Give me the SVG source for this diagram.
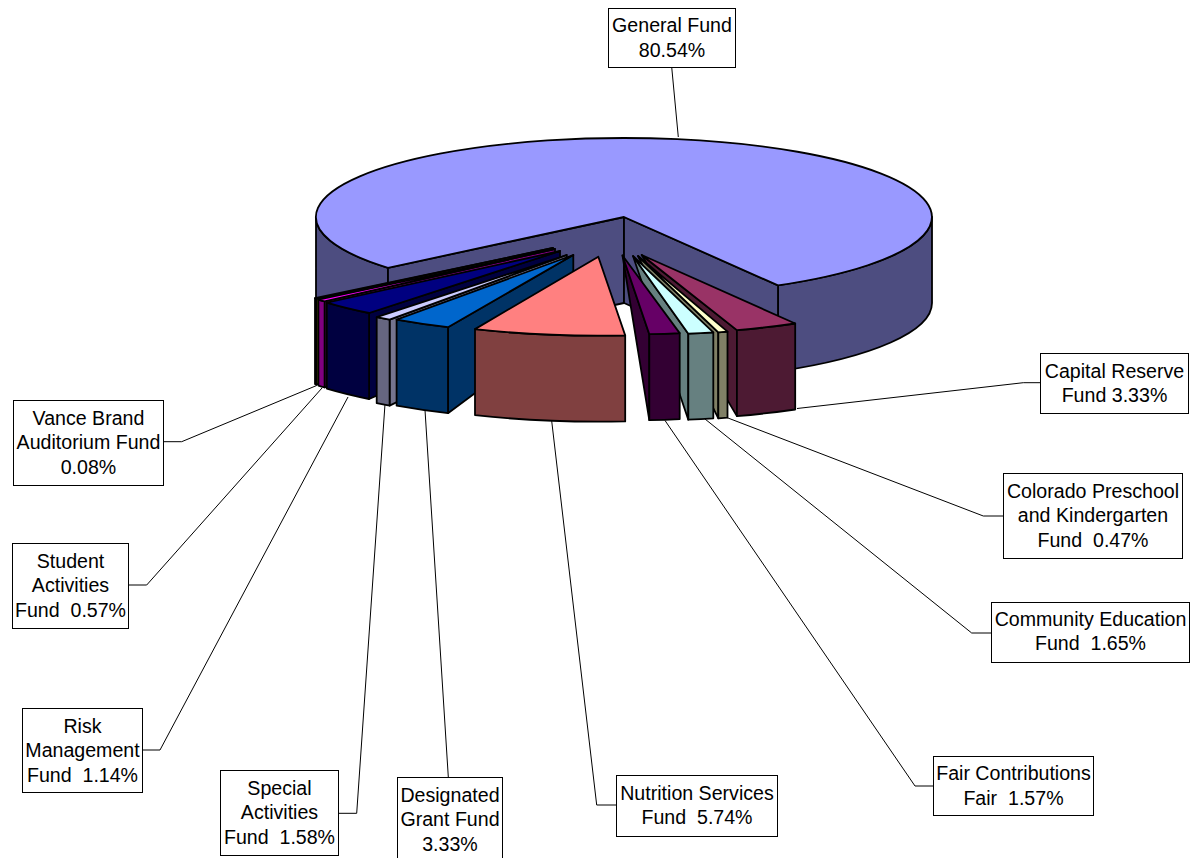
<svg xmlns="http://www.w3.org/2000/svg" width="1191" height="858" viewBox="0 0 1191 858">
<style>
.e{stroke:#000;stroke-width:1.8;stroke-linejoin:round}
.ld{fill:none;stroke:#000;stroke-width:1}
.bx{fill:#fff;stroke:#000;stroke-width:1}
text{font-family:"Liberation Sans",Arial,sans-serif;font-size:19.6px;text-anchor:middle;fill:#000;white-space:pre}
</style>
<rect width="1191" height="858" fill="#fff"/>
<g id="pie">
<g id="general-fund-slice">
<path class="e" fill="#4D4D80" d="M316,217 A308,79 0 0 0 388,267.8 L388,353.8 A308,79 0 0 1 316,303 Z"/>
<path class="e" fill="#4D4D80" d="M778,285.4 A308,79 0 0 0 932,217 L932,303 A308,79 0 0 1 778,371.4 Z"/>
<path class="e" fill="#4D4D80" d="M624,217 L388,267.8 L388,353.8 L624,303 Z"/>
<path class="e" fill="#4D4D80" d="M624,217 L778,285.4 L778,371.4 L624,303 Z"/>
<path class="e" fill="#9999FF" d="M624,217 L388,267.8 A308,79 0 1 1 778,285.4 Z"/>
</g>
<g id="vance-slice">
<path class="e" fill="#808000" d="M553,248 L316.4,298.6 L316.4,384.6 L553,313 Z"/>
<path class="e" fill="#808000" d="M315,298.1 A308,79 0 0 0 316.4,298.6 L316.4,384.6 A308,79 0 0 1 315,384.1 Z"/>
<path class="e" fill="#FFFF00" d="M553,248 L315,298.1 A308,79 0 0 0 316.4,298.6 Z"/>
</g>
<g id="student-slice">
<path class="e" fill="#800080" d="M555,249 L324.6,301.4 L324.6,387.4 L555,314 Z"/>
<path class="e" fill="#800080" d="M318.4,299.6 A308,79 0 0 0 324.6,301.4 L324.6,387.4 A308,79 0 0 1 318.4,385.6 Z"/>
<path class="e" fill="#FF00FF" d="M555,249 L318.4,299.6 A308,79 0 0 0 324.6,301.4 Z"/>
</g>
<g id="risk-slice">
<path class="e" fill="#000040" d="M560,251 L369.1,313 L369.1,399 L560,316 Z"/>
<path class="e" fill="#000040" d="M326.8,302.6 A308,79 0 0 0 369.1,313 L369.1,399 A308,79 0 0 1 326.8,388.6 Z"/>
<path class="e" fill="#000080" d="M560,251 L326.8,302.6 A308,79 0 0 0 369.1,313 Z"/>
</g>
<g id="special-slice">
<path class="e" fill="#75758F" d="M566.7,255 L389.6,319.6 L389.6,405.6 L566.7,320 Z"/>
<path class="e" fill="#666680" d="M376.7,317.2 A308,79 0 0 0 389.6,319.6 L389.6,405.6 A308,79 0 0 1 376.7,403.2 Z"/>
<path class="e" fill="#CCCCFF" d="M566.7,255 L376.7,317.2 A308,79 0 0 0 389.6,319.6 Z"/>
</g>
<g id="designated-slice">
<path class="e" fill="#003366" d="M573.3,255 L448,327.2 L448,413.2 L573.3,320 Z"/>
<path class="e" fill="#003366" d="M396.6,319.7 A308,79 0 0 0 448,327.2 L448,413.2 A308,79 0 0 1 396.6,405.7 Z"/>
<path class="e" fill="#0066CC" d="M573.3,255 L396.6,319.7 A308,79 0 0 0 448,327.2 Z"/>
</g>
<g id="capital-slice">
<path class="e" fill="#4D1A33" d="M641.7,255 L736.9,330.1 L736.9,416.1 Z"/>
<path class="e" fill="#4D1A33" d="M736.9,330.1 A308,79 0 0 0 795.2,323.5 L795.2,409.5 A308,79 0 0 1 736.9,416.1 Z"/>
<path class="e" fill="#993366" d="M641.7,255 L736.9,330.1 A308,79 0 0 0 795.2,323.5 Z"/>
</g>
<g id="colorado-slice">
<path class="e" fill="#808066" d="M638,256 L718.3,332.3 L718.3,418.3 Z"/>
<path class="e" fill="#808066" d="M718.3,332.3 A308,79 0 0 0 727.5,331.6 L727.5,417.6 A308,79 0 0 1 718.3,418.3 Z"/>
<path class="e" fill="#FFFFCC" d="M638,256 L718.3,332.3 A308,79 0 0 0 727.5,331.6 Z"/>
</g>
<g id="community-slice">
<path class="e" fill="#668080" d="M633,256 L688.3,333.7 L688.3,419.7 Z"/>
<path class="e" fill="#668080" d="M688.3,333.7 A308,79 0 0 0 713.3,332.3 L713.3,418.3 A308,79 0 0 1 688.3,419.7 Z"/>
<path class="e" fill="#CCFFFF" d="M633,256 L688.3,333.7 A308,79 0 0 0 713.3,332.3 Z"/>
</g>
<g id="fair-slice">
<path class="e" fill="#330033" d="M622.5,255.5 L649.3,334.2 L649.3,420.2 Z"/>
<path class="e" fill="#330033" d="M649.3,334.2 A308,79 0 0 0 679.7,333.1 L679.7,419.1 A308,79 0 0 1 649.3,420.2 Z"/>
<path class="e" fill="#660066" d="M622.5,255.5 L649.3,334.2 A308,79 0 0 0 679.7,333.1 Z"/>
</g>
<g id="nutrition-slice">
<path class="e" fill="#804040" d="M475,329.1 A308,79 0 0 0 625.2,335.4 L625.2,421.4 A308,79 0 0 1 475,415.1 Z"/>
<path class="e" fill="#FF8080" d="M598.3,256.7 L475,329.1 A308,79 0 0 0 625.2,335.4 Z"/>
</g>
</g>
<g id="connectors">
<polyline class="ld" points="671.7,67 678.3,137"/>
<polyline class="ld" points="1040,382.7 1023.3,382.7 797,408.5"/>
<polyline class="ld" points="1003,516 983.3,516 726.7,417.5"/>
<polyline class="ld" points="991,633 971.7,633 705,419"/>
<polyline class="ld" points="933,786 915,786 665,420.5"/>
<polyline class="ld" points="616,805 596.7,805 551.7,421"/>
<polyline class="ld" points="448.3,777 425,410"/>
<polyline class="ld" points="338,813.3 356.7,813.3 385,404"/>
<polyline class="ld" points="142,750 160,750 348,397"/>
<polyline class="ld" points="128,585 146.7,585 322,388"/>
<polyline class="ld" points="163,441.7 181.7,441.7 316.7,385.5"/>
</g>
<g id="label-general">
<rect class="bx" x="608.5" y="8.5" width="127" height="59"/>
<text x="672" y="32">General Fund</text><text x="672" y="56.5">80.54%</text>
</g>
<g id="label-capital">
<rect class="bx" x="1040.5" y="353.5" width="148" height="60"/>
<text x="1114.5" y="377.5">Capital Reserve</text><text x="1114.5" y="402">Fund 3.33%</text>
</g>
<g id="label-colorado">
<rect class="bx" x="1003.5" y="473.5" width="179" height="85"/>
<text x="1093" y="497.5">Colorado Preschool</text><text x="1093" y="522">and Kindergarten</text><text x="1093" y="546.5">Fund  0.47%</text>
</g>
<g id="label-community">
<rect class="bx" x="991.5" y="602.5" width="198" height="60"/>
<text x="1090.5" y="625.5">Community Education</text><text x="1090.5" y="650">Fund  1.65%</text>
</g>
<g id="label-fair">
<rect class="bx" x="933.5" y="756.5" width="160" height="59"/>
<text x="1013.5" y="780">Fair Contributions</text><text x="1013.5" y="804.5">Fair  1.57%</text>
</g>
<g id="label-nutrition">
<rect class="bx" x="616.5" y="775.5" width="161" height="61"/>
<text x="697" y="799.5">Nutrition Services</text><text x="697" y="824">Fund  5.74%</text>
</g>
<g id="label-designated">
<rect class="bx" x="397.5" y="777.5" width="105" height="90"/>
<text x="450" y="801.5">Designated</text><text x="450" y="826">Grant Fund</text><text x="450" y="850.5">3.33%</text>
</g>
<g id="label-special">
<rect class="bx" x="220.5" y="770.5" width="118" height="85"/>
<text x="279.5" y="794.5">Special</text><text x="279.5" y="819">Activities</text><text x="279.5" y="843.5">Fund  1.58%</text>
</g>
<g id="label-risk">
<rect class="bx" x="22.5" y="708.5" width="120" height="84"/>
<text x="82.5" y="732.5">Risk</text><text x="82.5" y="757">Management</text><text x="82.5" y="781.5">Fund  1.14%</text>
</g>
<g id="label-student">
<rect class="bx" x="12.5" y="543.5" width="116" height="85"/>
<text x="70.5" y="567.5">Student</text><text x="70.5" y="592">Activities</text><text x="70.5" y="616.5">Fund  0.57%</text>
</g>
<g id="label-vance">
<rect class="bx" x="13.5" y="400.5" width="150" height="85"/>
<text x="88.5" y="424.5">Vance Brand</text><text x="88.5" y="449">Auditorium Fund</text><text x="88.5" y="473.5">0.08%</text>
</g>
</svg>
